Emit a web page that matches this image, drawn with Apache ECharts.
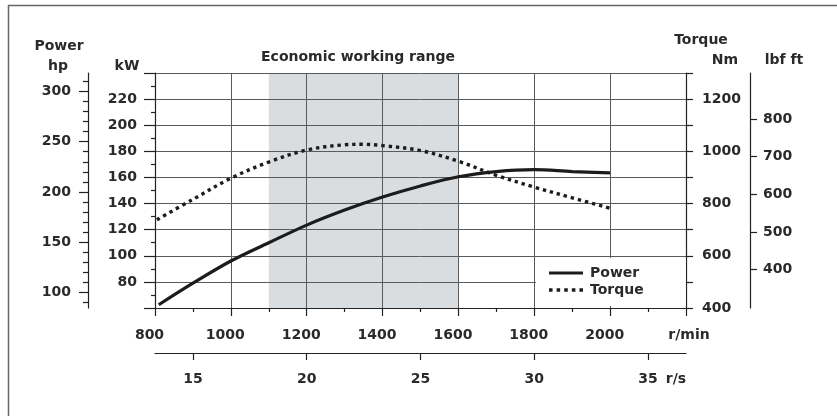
<!DOCTYPE html>
<html><head><meta charset="utf-8">
<script src="https://cdn.jsdelivr.net/npm/echarts@6/dist/echarts.min.js"></script>
<style>html,body{margin:0;padding:0;background:#fff}#c{width:837px;height:416px}</style>
</head><body><div id="c"></div>
<script>
// ---- data ----
const powerRpm = [810, 900, 1000, 1100, 1200, 1300, 1400, 1500, 1600, 1700, 1800, 1900, 2000];
const powerKw  = [62.5, 79, 96, 110, 123.5, 135, 145, 153.5, 160.5, 164.5, 166, 164.5, 163.5];
const torqueRpm = [805, 900, 1000, 1100, 1200, 1300, 1350, 1400, 1500, 1600, 1700, 1800, 1900, 2000];
const torqueNm  = [738, 816, 897, 959, 1005, 1025, 1027, 1022, 1003, 962, 908, 863, 822, 782];
const economicRange = [1100, 1600];
const hpLabels = [100, 150, 200, 250, 300];
const hpMinorTicks = [90, 110, 120, 130, 140, 160, 170, 180, 190, 210, 220, 230, 240, 260, 270, 280, 290, 310];
const lbfLabels = [400, 500, 600, 700, 800];
const rpsTicks = [15, 20, 25, 30, 35];
const seriesNames = ['Power', 'Torque'];

const FF = '"DejaVu Sans", sans-serif';
const TXT = '#2a2a2a';
const LINE = '#222';
const GRID = '#5a5a5a';
const AXZ = 10;
const lab = (extra) => Object.assign({fontFamily: FF, fontWeight: 'bold', fontSize: 14, color: TXT}, extra);
const zip = (a, b) => a.map((v, i) => [v, b[i]]);

const chart = echarts.init(document.getElementById('c'), null, {renderer: 'canvas'});
const font = 'bold 14px ' + FF;
const txt = (text, x, y, align) => ({type: 'text', x: x, y: y, silent: true,
  style: {text: text, font: font, fill: TXT, align: align || 'center', verticalAlign: 'middle'}});

// legend icons: solid bar and a row of square dots
const solidIcon = 'path://M0,0H34V3.2H0Z';
const dotIcon = 'path://M0,0h3.4v3.4h-3.4z M7.3,0h3.4v3.4h-3.4z M14.6,0h3.4v3.4h-3.4z M21.9,0h3.4v3.4h-3.4z M29.2,0h3.4v3.4h-3.4z';

chart.setOption({
  backgroundColor: '#fff',
  animation: false,
  grid: {left: 155, right: 151, top: 73, bottom: 108, outerBoundsMode: 'none', containLabel: false},
  legend: {
    data: [{name: seriesNames[0], icon: solidIcon}, {name: seriesNames[1], icon: dotIcon}],
    orient: 'vertical', left: 536, top: 258, z: 12,
    backgroundColor: '#fff', padding: [8, 42, 9, 13],
    itemWidth: 34, itemHeight: 14, itemGap: 3,
    textStyle: lab({padding: [0, 0, 0, 2]})
  },
  xAxis: [
    {type: 'value', position: 'bottom', min: 800, max: 2200, interval: 200, z: AXZ,
     axisLine: {show: true, lineStyle: {color: LINE, width: 1.2}},
     axisTick: {show: true, length: 8, lineStyle: {color: LINE, width: 1.2}},
     minorTick: {show: true, splitNumber: 2, length: 4, lineStyle: {color: LINE, width: 1.2}},
     splitLine: {show: true, lineStyle: {color: GRID, width: 1}},
     axisLabel: lab({margin: 20, padding: [0, 11, 0, 0], formatter: v => v === 2200 ? '' : String(v)})},
    {type: 'value', position: 'bottom', offset: 45, min: 800 / 60, max: 2200 / 60, z: AXZ,
     axisLine: {show: true, lineStyle: {color: LINE, width: 1.2}},
     axisTick: {show: true, length: 7, customValues: rpsTicks, lineStyle: {color: LINE, width: 1.2}},
     splitLine: {show: false},
     axisLabel: lab({margin: 19, customValues: rpsTicks})}
  ],
  yAxis: [
    {type: 'value', position: 'left', min: 60, max: 240, interval: 20, z: AXZ,
     axisLine: {show: true, lineStyle: {color: LINE, width: 1.2}},
     axisTick: {show: true, length: 11, lineStyle: {color: LINE, width: 1.2}},
     minorTick: {show: true, splitNumber: 2, length: 4, lineStyle: {color: LINE, width: 1.2}},
     splitLine: {show: true, lineStyle: {color: GRID, width: 1}},
     axisLabel: lab({margin: 18, formatter: v => (v === 60 || v === 240) ? '' : String(v)})},
    {type: 'value', position: 'right', min: 400, max: 1300, interval: 100, z: AXZ,
     axisLine: {show: true, lineStyle: {color: LINE, width: 1.2}},
     axisTick: {show: true, length: 7, lineStyle: {color: LINE, width: 1.2}},
     splitLine: {show: false},
     axisLabel: lab({margin: 16, formatter: v => v % 200 === 0 ? String(v) : ''})},
    {type: 'value', position: 'left', offset: 67, min: 84.5, max: 318.3, z: AXZ,
     axisLine: {show: true, lineStyle: {color: LINE, width: 1.2}},
     axisTick: {show: true, length: 9, customValues: hpLabels, lineStyle: {color: LINE, width: 1.2}},
     splitLine: {show: false},
     axisLabel: lab({margin: 17, customValues: hpLabels})},
    {type: 'value', position: 'left', offset: 67, min: 84.5, max: 318.3, z: AXZ,
     axisLine: {show: false},
     axisTick: {show: true, length: 5, customValues: hpMinorTicks, lineStyle: {color: LINE, width: 1.2}},
     splitLine: {show: false},
     axisLabel: {show: false}},
    {type: 'value', position: 'right', offset: 64, min: 298.3, max: 922.1, z: AXZ,
     axisLine: {show: true, lineStyle: {color: LINE, width: 1.2}},
     axisTick: {show: true, length: 7, customValues: lbfLabels, lineStyle: {color: LINE, width: 1.2}},
     splitLine: {show: false},
     axisLabel: lab({margin: 13, customValues: lbfLabels})}
  ],
  series: [
    {type: 'line', name: 'band', data: [], z: 1, zlevel: 0, silent: true,
     markArea: {silent: true, z: 1, itemStyle: {color: '#dadddf'},
       data: [[{xAxis: economicRange[0]}, {xAxis: economicRange[1]}]]}},
    {type: 'line', name: seriesNames[0], xAxisIndex: 0, yAxisIndex: 0, data: zip(powerRpm, powerKw), z: 14,
     smooth: 0.35, symbol: 'none', lineStyle: {color: '#1c1c1c', width: 3.2}, itemStyle: {color: '#1c1c1c'}},
    {type: 'line', name: seriesNames[1], xAxisIndex: 0, yAxisIndex: 1, data: zip(torqueRpm, torqueNm), z: 14,
     smooth: 0.35, symbol: 'none', lineStyle: {color: '#1c1c1c', width: 3.4, type: [3.4, 3.9], cap: 'butt'},
     itemStyle: {color: '#1c1c1c'}}
  ],
  graphic: {elements: [
    {type: 'line', silent: true, shape: {x1: 8.5, y1: 5, x2: 8.5, y2: 416}, style: {stroke: '#666', lineWidth: 1.5}},
    {type: 'line', silent: true, shape: {x1: 8, y1: 5.5, x2: 837, y2: 5.5}, style: {stroke: '#666', lineWidth: 1.5}},
    txt('Power', 59, 46),
    txt('hp', 58, 66),
    txt('kW', 127, 66),
    txt('Economic working range', 358, 57),
    txt('Torque', 701, 40),
    txt('Nm', 725, 60),
    txt('lbf ft', 784, 60),
    txt('r/min', 689, 335),
    txt('r/s', 676, 379)
  ]}
});
</script></body></html>
